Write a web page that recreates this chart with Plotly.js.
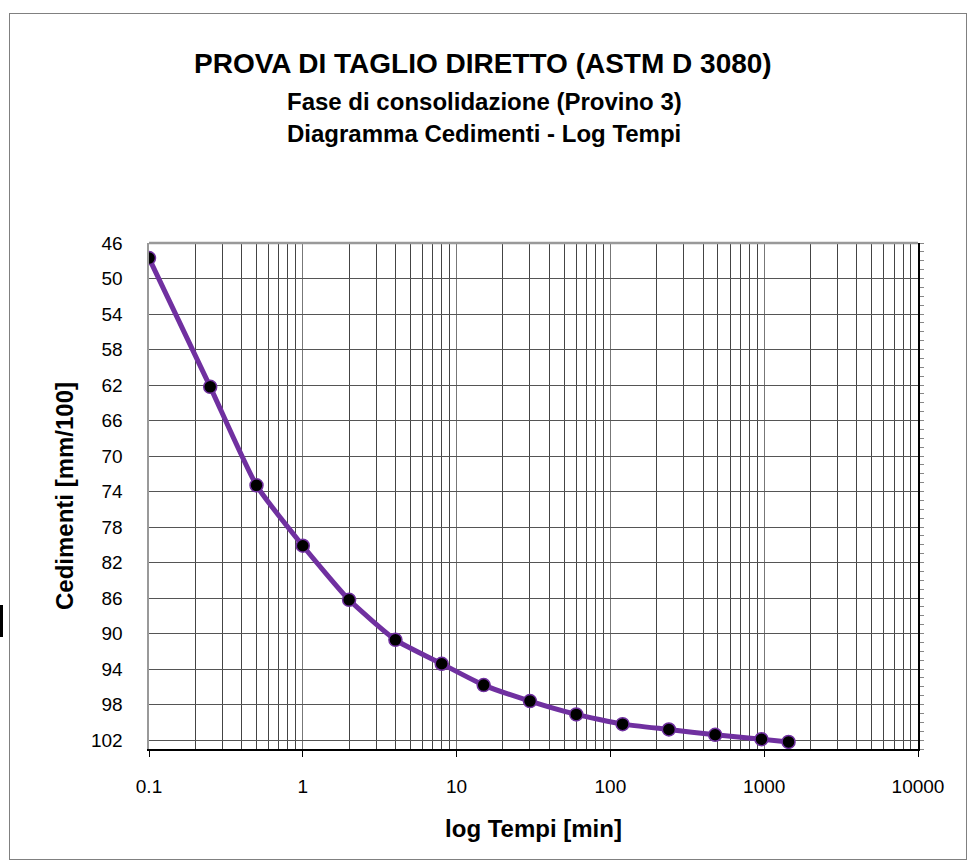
<!DOCTYPE html>
<html>
<head>
<meta charset="utf-8">
<script src="https://cdn.plot.ly/plotly-3.0.1.min.js"></script>
<style>
  html, body { margin: 0; padding: 0; background: #fff; }
  #chart { width: 975px; height: 867px; position: absolute; left: 0; top: 0; }
  #frame { position: absolute; left: 9px; top: 13px; width: 956px; height: 845px; border: 1px solid #808080; pointer-events: none; }
  #mark { position: absolute; left: 0px; top: 605px; width: 3px; height: 32px; background: #000; }
</style>
</head>
<body>
<div id="chart"></div>
<div id="frame"></div>
<div id="mark"></div>
<script>
// Data
const tempi = [0.1, 0.25, 0.5, 1, 2, 4, 8, 15, 30, 60, 120, 240, 480, 960, 1440];
const cedimenti = [47.7, 62.2, 73.3, 80.1, 86.2, 90.7, 93.4, 95.8, 97.6, 99.1, 100.2, 100.8, 101.4, 101.9, 102.2];
const xTickVals = [0.1, 1, 10, 100, 1000, 10000];
const xTickText = ['0.1', '1', '10', '100', '1000', '10000'];
const yTickVals = [46, 50, 54, 58, 62, 66, 70, 74, 78, 82, 86, 90, 94, 98, 102];
const yTickText = ['46', '50', '54', '58', '62', '66', '70', '74', '78', '82', '86', '90', '94', '98', '102'];
const titleLines = ['PROVA DI TAGLIO DIRETTO (ASTM D 3080)', 'Fase di consolidazione (Provino 3)', 'Diagramma Cedimenti - Log Tempi'];

const FONT = 'Liberation Sans, Arial, sans-serif';
const purple = '#7030A0';

const traces = [
  {
    x: tempi, y: cedimenti, type: 'scatter', mode: 'lines+markers',
    line: { color: purple, width: 5, shape: 'spline', smoothing: 0.5 },
    marker: { color: '#000', size: 13, line: { color: purple, width: 1.5 } },
    hoverinfo: 'x+y', showlegend: false
  },
  {
    x: tempi, y: cedimenti, type: 'scatter', mode: 'markers', yaxis: 'y2',
    marker: { opacity: 0, size: 1 }, hoverinfo: 'skip', showlegend: false
  }
];

const L = 149, R = 918, T = 243, B = 749, W = 975, H = 867;
const ph = B - T, pw = R - L;
function py(pix) { return (B - pix) / ph; }
function px(pix) { return (pix - L) / pw; }

const layout = {
  width: W, height: H,
  margin: { l: L, r: W - R, t: T, b: H - B, pad: 0 },
  paper_bgcolor: '#fff', plot_bgcolor: '#fff',
  font: { family: FONT, color: '#000', size: 19 },
  showlegend: false,
  xaxis: {
    type: 'log', range: [-1, 4],
    tickvals: xTickVals, ticktext: xTickText,
    ticks: 'outside', ticklen: 6, tickcolor: '#000', tickwidth: 1,
    ticklabelstandoff: 13,
    tickfont: { family: FONT, size: 19, color: '#000' },
    showgrid: true, gridcolor: '#777', gridwidth: 1,
    minor: { dtick: 'D1', showgrid: true, gridcolor: '#444', gridwidth: 1, ticks: '' },
    showline: true, linecolor: '#000', linewidth: 2,
    zeroline: false, mirror: false,
    title: { text: '<b>log Tempi [min]</b>', font: { family: FONT, size: 24, color: '#000' }, standoff: 24 }
  },
  yaxis: {
    range: [103, 46], autorange: false,
    tickvals: yTickVals, ticktext: yTickText,
    ticks: '', ticklabelstandoff: 20,
    tickfont: { family: FONT, size: 19, color: '#000' },
    showgrid: true, gridcolor: '#555', gridwidth: 1,
    showline: true, linecolor: '#999', linewidth: 2.5,
    zeroline: false,
    title: { text: '<b>Cedimenti [mm/100]</b>', font: { family: FONT, size: 24, color: '#000' }, standoff: 11 }
  },
  yaxis2: {
    overlaying: 'y', side: 'right', anchor: 'x',
    range: [103, 46], autorange: false,
    tickvals: yTickVals, ticktext: yTickVals.map(() => ''),
    showticklabels: false,
    ticks: 'outside', ticklen: 6, tickcolor: '#000', tickwidth: 1.5,
    minor: { dtick: 1, tick0: 46, ticks: 'outside', ticklen: 4, tickcolor: '#888', tickwidth: 1, showgrid: false },
    showgrid: false, zeroline: false,
    showline: true, linecolor: '#000', linewidth: 2
  },
  shapes: [
    { type: 'line', xref: 'paper', yref: 'paper', x0: 0, x1: 1, y0: 1, y1: 1, line: { color: '#999', width: 2.5 } }
  ],
  annotations: [
    { xref: 'paper', yref: 'paper', x: px(483), y: py(63), xanchor: 'center', yanchor: 'middle', showarrow: false,
      text: '<b>' + titleLines[0] + '</b>', font: { family: FONT, size: 28, color: '#000' } },
    { xref: 'paper', yref: 'paper', x: px(484), y: py(101), xanchor: 'center', yanchor: 'middle', showarrow: false,
      text: '<b>' + titleLines[1] + '</b>', font: { family: FONT, size: 24, color: '#000' } },
    { xref: 'paper', yref: 'paper', x: px(484), y: py(134), xanchor: 'center', yanchor: 'middle', showarrow: false,
      text: '<b>' + titleLines[2] + '</b>', font: { family: FONT, size: 24, color: '#000' } }
  ]
};

Plotly.newPlot('chart', traces, layout, { displayModeBar: false, staticPlot: true });
</script>
</body>
</html>
